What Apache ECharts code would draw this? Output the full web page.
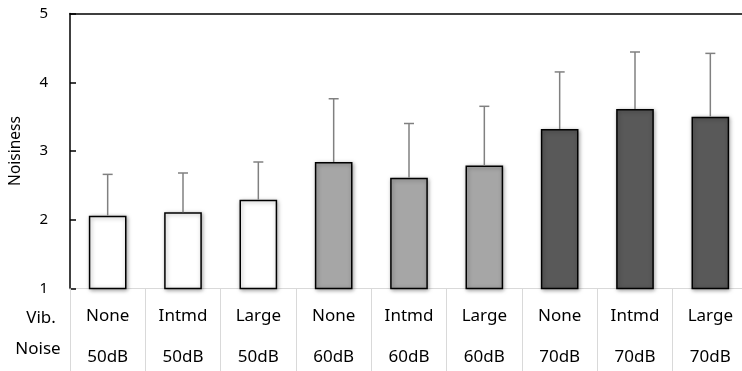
<!DOCTYPE html>
<html><head><meta charset="utf-8">
<script src="https://cdn.jsdelivr.net/npm/echarts@6/dist/echarts.min.js"></script>
<style>html,body{margin:0;padding:0;background:#fff}#c{width:742px;height:371px}</style>
</head><body><div id="c"></div>
<script>
var vib = ['None','Intmd','Large','None','Intmd','Large','None','Intmd','Large'];
var noise = ['50dB','50dB','50dB','60dB','60dB','60dB','70dB','70dB','70dB'];
var means = [2.06, 2.11, 2.29, 2.84, 2.61, 2.79, 3.32, 3.61, 3.50];
var errTop = [2.66, 2.68, 2.84, 3.76, 3.40, 3.65, 4.15, 4.44, 4.42];
var groupColors = ['#ffffff','#ffffff','#ffffff','#a6a6a6','#a6a6a6','#a6a6a6','#595959','#595959','#595959'];
var yTicks = [1,2,3,4,5];

var FONT = 'Noto Sans';
var cats = vib.map(function(v,i){return v + '\n' + noise[i];});

var chart = echarts.init(document.getElementById('c'), null, {renderer:'canvas'});
chart.setOption({
  animation:false,
  textStyle:{fontFamily:FONT},
  grid:{left:70, right:-6, top:13.5, bottom:82.5, containLabel:false, outerBoundsMode:'none'},
  xAxis:[{
    type:'category', data:cats, position:'bottom',
    axisLine:{lineStyle:{color:'#d9d9d9', width:1}},
    axisTick:{show:true, length:84, lineStyle:{color:'#d9d9d9'}},
    axisLabel:{fontSize:17, color:'#000', lineHeight:41, margin:7, fontFamily:FONT}
  },{
    type:'category', data:cats, position:'top',
    axisLine:{lineStyle:{color:'#000', width:1.5}},
    axisTick:{show:false}, axisLabel:{show:false}
  }],
  yAxis:{
    type:'value', min:yTicks[0], max:yTicks[yTicks.length-1], interval:1,
    name:'Noisiness', nameLocation:'middle', nameGap:46,
    nameTextStyle:{fontSize:15.5, color:'#000', fontFamily:FONT},
    axisLine:{show:true, lineStyle:{color:'#000', width:1.5}},
    axisTick:{show:true, inside:true, length:6, lineStyle:{color:'#000', width:1.5}},
    axisLabel:{fontSize:15, color:'#000', margin:22, fontFamily:FONT},
    splitLine:{show:false}
  },
  graphic:[
    {type:'text', x:41, y:318, style:{text:'Vib.', fontSize:17, fill:'#000', fontFamily:FONT, align:'center', verticalAlign:'middle'}},
    {type:'text', x:38, y:349, style:{text:'Noise', fontSize:17, fill:'#000', fontFamily:FONT, align:'center', verticalAlign:'middle'}}
  ],
  series:[{
    type:'bar', barWidth:'50%',
    data:means.map(function(v,i){return {value:v, itemStyle:{color:groupColors[i]}};}),
    itemStyle:{borderColor:'#000', borderWidth:1.5, shadowBlur:4, shadowColor:'rgba(0,0,0,0.35)', shadowOffsetX:1, shadowOffsetY:1},
    z:2
  },{
    type:'custom',
    data:means.map(function(v,i){return [i, v, errTop[i]];}),
    renderItem:function(params, api){
      var p0 = api.coord([api.value(0), api.value(1)]);
      var p1 = api.coord([api.value(0), api.value(2)]);
      var cap = 5;
      return {type:'group', children:[
        {type:'line', shape:{x1:p0[0], y1:p0[1], x2:p1[0], y2:p1[1]}, style:{stroke:'#808080', lineWidth:1.5}},
        {type:'line', shape:{x1:p1[0]-cap, y1:p1[1], x2:p1[0]+cap, y2:p1[1]}, style:{stroke:'#808080', lineWidth:1.5}}
      ]};
    },
    z:3
  }]
});
</script></body></html>
